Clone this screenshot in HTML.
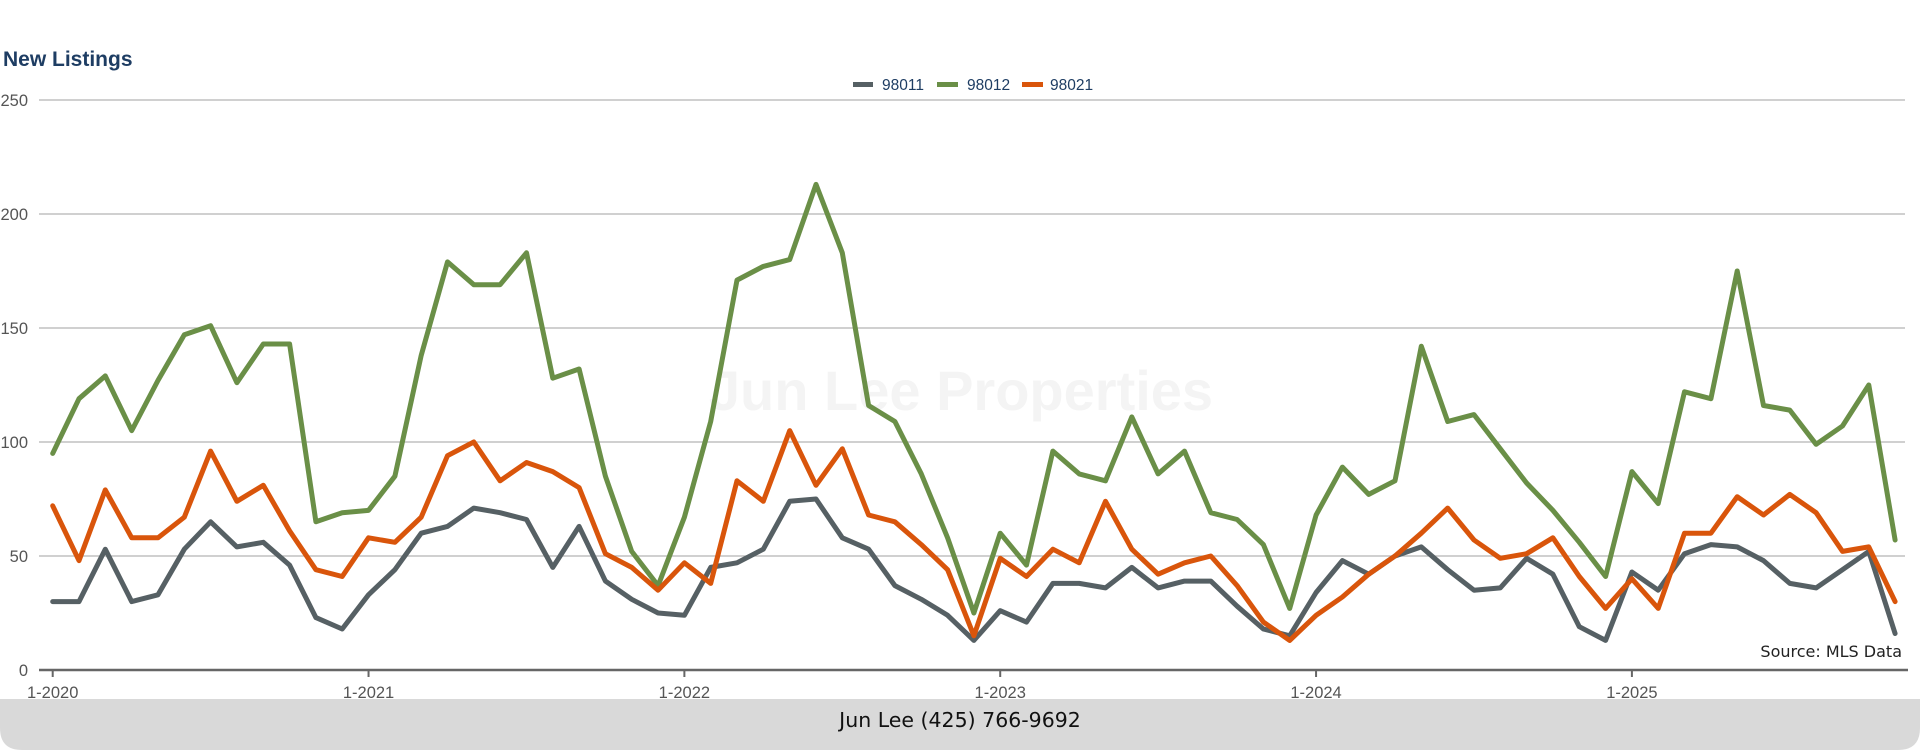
<!DOCTYPE html>
<html><head><meta charset="utf-8"><style>
html,body{margin:0;padding:0;background:#fff;}
body{width:1920px;height:750px;overflow:hidden;position:relative;font-family:"Liberation Sans",sans-serif;}
</style></head><body>
<svg id="chart" width="1920" height="750" xmlns="http://www.w3.org/2000/svg" style="position:absolute;left:0;top:0">
<rect x="0" y="0" width="1920" height="750" fill="#fff"/>
<text x="961" y="410" text-anchor="middle" font-family="Liberation Sans, sans-serif" font-weight="bold" font-size="56" fill="#f4f4f4">Jun Lee Properties</text>
<text x="3" y="66" font-family="Liberation Sans, sans-serif" font-weight="bold" font-size="21" fill="#1e3d63">New Listings</text>
<g id="grid"></g><g id="yticks"></g><g id="xticks"></g><g id="series"></g>
<g>
<rect x="853" y="82" width="20" height="5" fill="#566064"/>
<text x="882" y="90" font-size="15.5" fill="#1e3d63" font-family="Liberation Sans, sans-serif">98011</text>
<rect x="937" y="82" width="21" height="5" fill="#6a8f47"/>
<text x="967" y="90" font-size="15.5" fill="#1e3d63" font-family="Liberation Sans, sans-serif">98012</text>
<rect x="1022" y="82" width="21" height="5" fill="#d9550b"/>
<text x="1050" y="90" font-size="15.5" fill="#1e3d63" font-family="Liberation Sans, sans-serif">98021</text>
</g>
<text x="1902" y="657" text-anchor="end" font-size="16" fill="#222" font-family="DejaVu Sans, sans-serif">Source: MLS Data</text>
<path d="M0 699 H1920 V728 Q1920 750 1898 750 H22 Q0 750 0 728 Z" fill="#d9d9d9"/>
<text x="960" y="727" text-anchor="middle" font-size="20.5" fill="#111" font-family="DejaVu Sans, sans-serif">Jun Lee (425) 766-9692</text>
</svg>
<script>
const months = 71;
const yTicks = [0,50,100,150,200,250];
const xTickLabels = ["1-2020","1-2021","1-2022","1-2023","1-2024","1-2025"];
const s98011 = [30,30,53,30,33,53,65,54,56,46,23,18, 33,44,60,63,71,69,66,45,63,39,31,25, 24,45,47,53,74,75,58,53,37,31,24,13, 26,21,38,38,36,45,36,39,39,28,18,15, 34,48,42,50,54,44,35,36,49,42,19,13, 43,35,51,55,54,48,38,36,44,52,16];
const s98012 = [95,119,129,105,127,147,151,126,143,143,65,69, 70,85,138,179,169,169,183,128,132,85,52,37, 67,109,171,177,180,213,183,116,109,86,58,25, 60,46,96,86,83,111,86,96,69,66,55,27, 68,89,77,83,142,109,112,97,82,70,56,41, 87,73,122,119,175,116,114,99,107,125,57];
const s98021 = [72,48,79,58,58,67,96,74,81,61,44,41, 58,56,67,94,100,83,91,87,80,51,45,35, 47,38,83,74,105,81,97,68,65,55,44,15, 49,41,53,47,74,53,42,47,50,37,21,13, 24,32,42,50,60,71,57,49,51,58,41,27, 40,27,60,60,76,68,77,69,52,54,30];
const NS="http://www.w3.org/2000/svg";
const x = i => 52.7 + i*26.32;
const y = v => 670 - v*(570/250);
function mk(tag, attrs, parent){const e=document.createElementNS(NS,tag);for(const k in attrs)e.setAttribute(k,attrs[k]);parent.appendChild(e);return e;}
const grid=document.getElementById('grid'), yt=document.getElementById('yticks'), xt=document.getElementById('xticks'), ser=document.getElementById('series');
yTicks.forEach(v=>{
  if(v>0){const g=mk('line',{x1:39,x2:1905,y1:y(v),y2:y(v),stroke:'#b4b4b4','stroke-width':1.3},grid);
  
  }
  const t=mk('text',{x:28,y:y(v)+6,'text-anchor':'end','font-size':16.5,fill:'#555','font-family':'Liberation Sans, sans-serif'},yt);
  t.textContent=v;
  
  
});
const ax=mk('line',{x1:39,x2:1908,y1:670,y2:670,stroke:'#666','stroke-width':2.5},grid);


xTickLabels.forEach((lab,k)=>{
  const xx=x(k*12);
  const tk=mk('line',{x1:xx,x2:xx,y1:670,y2:677,stroke:'#666','stroke-width':2},xt);
  
  
  const t=mk('text',{x:xx,y:698,'text-anchor':'middle','font-size':16.5,fill:'#555','font-family':'Liberation Sans, sans-serif'},xt);
  t.textContent=lab;
  
  
});
[[s98011,'#566064','98011'],[s98012,'#6a8f47','98012'],[s98021,'#d9550b','98021']].forEach(([d,c,n])=>{
  const pts=d.map((v,i)=>x(i).toFixed(1)+','+y(v).toFixed(1)).join(' ');
  const p=mk('polyline',{points:pts,fill:'none',stroke:c,'stroke-width':5,'stroke-linejoin':'round','stroke-linecap':'round'},ser);
  
  
});
</script>
</body></html>
